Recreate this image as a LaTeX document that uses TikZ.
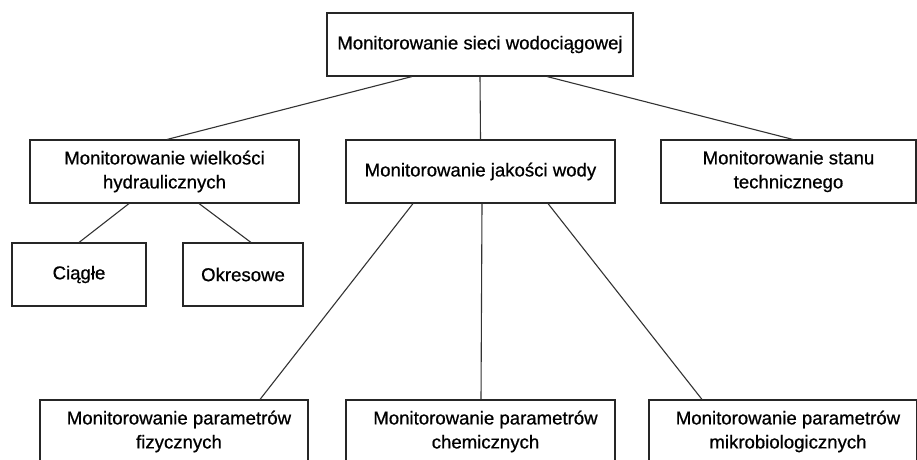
\documentclass[tikz,border=0pt]{standalone}
\usepackage{fontspec}
\setmainfont{Liberation Sans}
\newfontfamily\boxfont{Liberation Sans}[FakeBold=0.7]
\begin{document}
\begin{tikzpicture}[x=1pt,y=-1pt,
  box/.style={draw=black!85, line width=1.1pt, rectangle, inner sep=0pt,
    align=center, minimum height=63pt, font=\boxfont\fontsize{18.6}{24}\selectfont},
  link/.style={draw=black!80, line width=1.1pt}]
\useasboundingbox (0,0) rectangle (917,459);
\clip (0,0) rectangle (917,459);
\node[box, minimum width=306pt] (top) at (480,44.5) {Monitorowanie sieci wodociągowej};
\node[box, minimum width=269pt] (hyd) at (164.5,171.5) {Monitorowanie wielkości\\hydraulicznych};
\node[box, minimum width=269pt] (jak) at (480.5,171.5) {Monitorowanie jakości wody};
\node[box, minimum width=255pt] (tech) at (788.5,171.5) {Monitorowanie stanu\\technicznego};
\node[box, minimum width=134pt] (ciagle) at (79,274.5) {Ciągłe};
\node[box, minimum width=120pt] (okres) at (243,274.5) {Okresowe};
\node[box, minimum width=268pt] (fiz) at (174,431.5) {\hspace*{10pt}Monitorowanie parametrów\\\hspace*{10pt}fizycznych};
\node[box, minimum width=269pt] (chem) at (480.5,431.5) {\hspace*{10pt}Monitorowanie parametrów\\\hspace*{10pt}chemicznych};
\node[box, minimum width=268pt] (mikro) at (783,431.5) {\hspace*{10pt}Monitorowanie parametrów\\\hspace*{10pt}mikrobiologicznych};
\draw[link] ([xshift=-68pt]top.south) -- ([xshift=2.5pt]hyd.north);
\draw[link] (top.south) -- (jak.north);
\draw[link] ([xshift=67pt]top.south) -- ([xshift=4.5pt]tech.north);
\draw[link] ([xshift=-35.5pt]hyd.south) -- (ciagle.north);
\draw[link] ([xshift=34.5pt]hyd.south) -- ([xshift=8pt]okres.north);
\draw[link] ([xshift=-67.5pt]jak.south) -- ([xshift=86pt]fiz.north);
\draw[link] ([xshift=1.5pt]jak.south) -- ([xshift=0.5pt]chem.north);
\draw[link] ([xshift=67.5pt]jak.south) -- ([xshift=-81pt]mikro.north);
\end{tikzpicture}
\end{document}
